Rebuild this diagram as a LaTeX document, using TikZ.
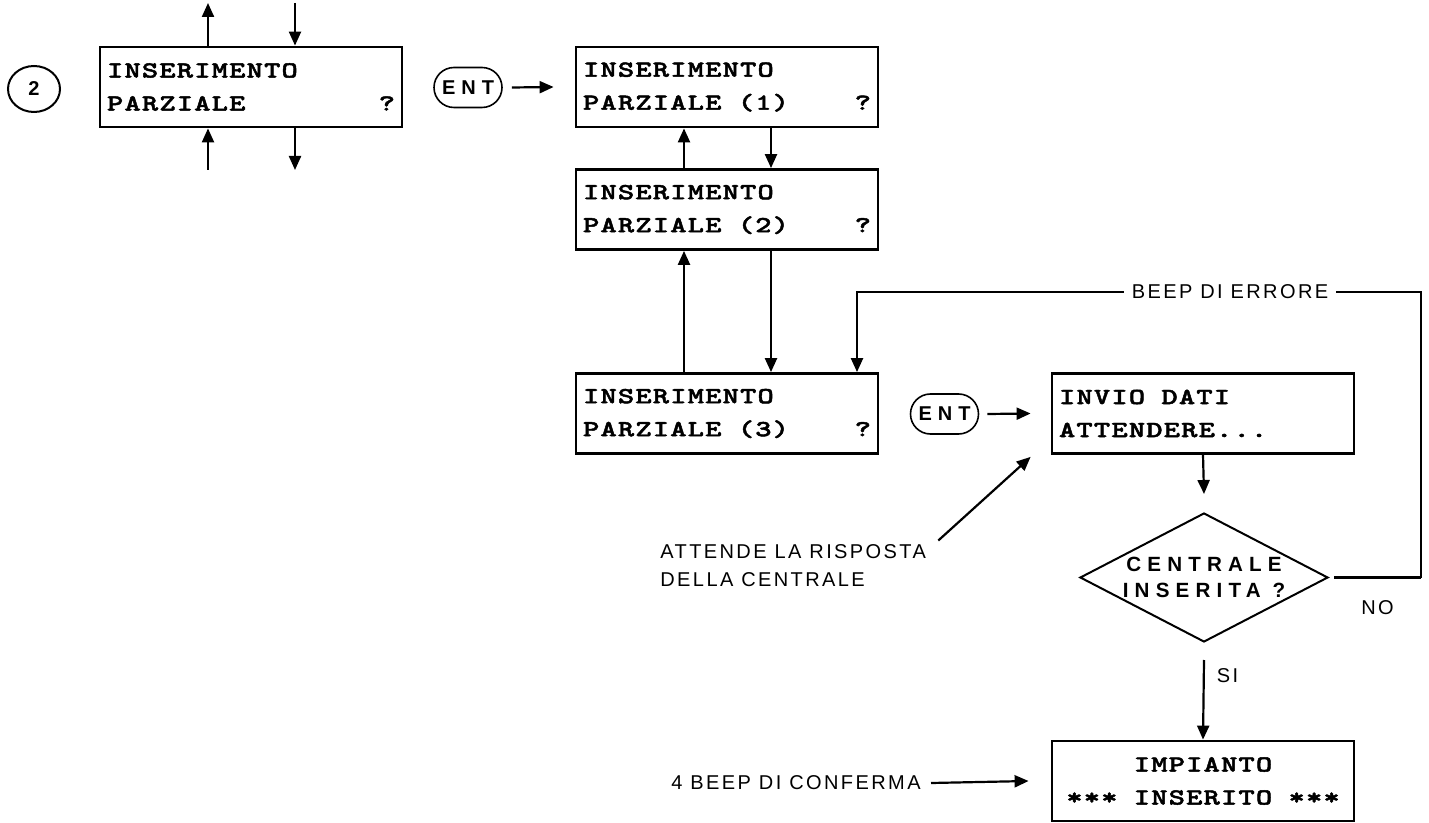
\documentclass[tikz,border=0pt]{standalone}
\usepackage{fontspec}
\usetikzlibrary{arrows.meta,shapes.geometric,positioning}
\newfontfamily\lcdfont{lmmonolt10-bold.otf}[LetterSpace=5,FakeStretch=1.35,FakeBold=2]
\newfontfamily\notefont{Liberation Sans}[LetterSpace=12]
\newfontfamily\keyfont{Liberation Sans}[LetterSpace=30]
\newcommand\lcdsp{\phantom{X}}

\begin{document}
\begin{tikzpicture}[x=0.5pt,y=-0.5pt,
    lcd/.style={draw, line width=1.4pt, minimum width=151pt, minimum height=40pt,
        inner xsep=3.5pt, inner ysep=0pt, text width=144pt, align=left,
        font=\lcdfont\fontsize{11.5}{16.5}\selectfont},
    entkey/.style={draw, line width=0.8pt, rounded corners=10pt, minimum width=34pt,
        minimum height=20pt, inner sep=0pt, font=\keyfont\bfseries\fontsize{10}{11}\selectfont},
    badge/.style={draw, ellipse, line width=1pt, minimum width=26pt, minimum height=23pt,
        inner sep=0pt, font=\keyfont\bfseries\fontsize{10}{11}\selectfont},
    query/.style={draw, diamond, aspect=2, line width=1pt, minimum width=124pt,
        minimum height=64.5pt, inner sep=0pt, align=center,
        font=\keyfont\bfseries\fontsize{10.3}{13}\selectfont},
    note/.style={inner sep=2pt, align=left, font=\notefont\fontsize{10}{14}\selectfont},
    arr/.style={-{Triangle[length=7pt,width=6pt]}, line width=1.1pt}]
    \useasboundingbox (0,0) rectangle (1429,823);

    % Step number and first display
    \node[badge] (two) at (34,89) {2};
    \node[lcd] (lcdA) at (251,87) {INSERIMENTO\\PARZIALE\hfill?};

    % Displays of the partial arming choice
    \node[lcd] (lcdB) at (727,87) {INSERIMENTO\\PARZIALE\lcdsp(1)\hfill?};
    \node[lcd] (lcdC) at (727,209.5) {INSERIMENTO\\PARZIALE\lcdsp(2)\hfill?};
    \node[lcd] (lcdD) at (727,413.5) {INSERIMENTO\\PARZIALE\lcdsp(3)\hfill?};
    \node[lcd] (lcdE) at (1203,413.5) {INVIO\lcdsp DATI\\ATTENDERE...};
    \node[lcd, align=center] (lcdF) at (1203,781) {IMPIANTO\\{}***\lcdsp INSERITO\lcdsp***};

    % Keys and the question
    \node[entkey] (entA) at (468,87.5) {ENT};
    \node[entkey] (entB) at (944.5,414) {ENT};
    \node[query] (ask) at (1204,577.5) {CENTRALE\\INSERITA ?};

    % Notes
    \node[note, anchor=west] (waitnote) at (656,566) {ATTENDE LA RISPOSTA\\DELLA CENTRALE};
    \node[note] (confnote) at (796,783) {4 BEEP DI CONFERMA};

    % Columns of the vertical arrows
    \coordinate (upA) at (208,3);
    \coordinate (dnA) at (295,3);
    \coordinate (upB) at (208,170);
    \coordinate (dnB) at (295,170);
    \coordinate (colU) at (684,0);
    \coordinate (colD) at (771,0);
    \coordinate (colE) at (857,0);
    \coordinate (loopR) at (1421,292);

    % Arrows round the first display
    \draw[arr] (lcdA.north -| upA) -- (upA);
    \draw[arr] (dnA) -- (dnA |- lcdA.north);
    \draw[arr] (upB) -- (upB |- lcdA.south);
    \draw[arr] (lcdA.south -| dnB) -- (dnB);

    % Scrolling between the partial displays
    \draw[arr] ([xshift=4.5pt]entA.east) -- ([xshift=-10.5pt]lcdB.west);
    \draw[arr] (lcdC.north -| colU) -- (lcdB.south -| colU);
    \draw[arr] (lcdB.south -| colD) -- (lcdC.north -| colD);
    \draw[arr] (lcdD.north -| colU) -- (lcdC.south -| colU);
    \draw[arr] (lcdC.south -| colD) -- (lcdD.north -| colD);

    % Sending and answer of the panel
    \draw[arr] ([xshift=4pt]entB.east) -- ([xshift=-10pt]lcdE.west);
    \draw[arr] ([xshift=4pt]waitnote.north east) -- ([xshift=-10pt,yshift=-1pt]lcdE.south west);
    \draw[arr] (lcdE.south) -- ([yshift=9pt]ask.north);
    \draw[arr] ([yshift=-8.5pt]ask.south) -- (lcdF.north) node[note, pos=0.2, right=4pt] {SI};
    \draw[arr] ([xshift=3pt]confnote.east) -- ([xshift=-11pt]lcdF.west);

    % Error loop back to the last choice
    \draw[line width=1.1pt] ([xshift=2.5pt]ask.east) -- (ask.east -| loopR) node[note, midway, below=9pt] {NO};
    \draw[arr] (ask.east -| loopR) -- (loopR) -- (loopR -| colE) -- (colE |- lcdD.north);
    \node[note, fill=white, inner xsep=4pt] (beeperr) at (1230,292) {BEEP DI ERRORE};
\end{tikzpicture}
\end{document}
